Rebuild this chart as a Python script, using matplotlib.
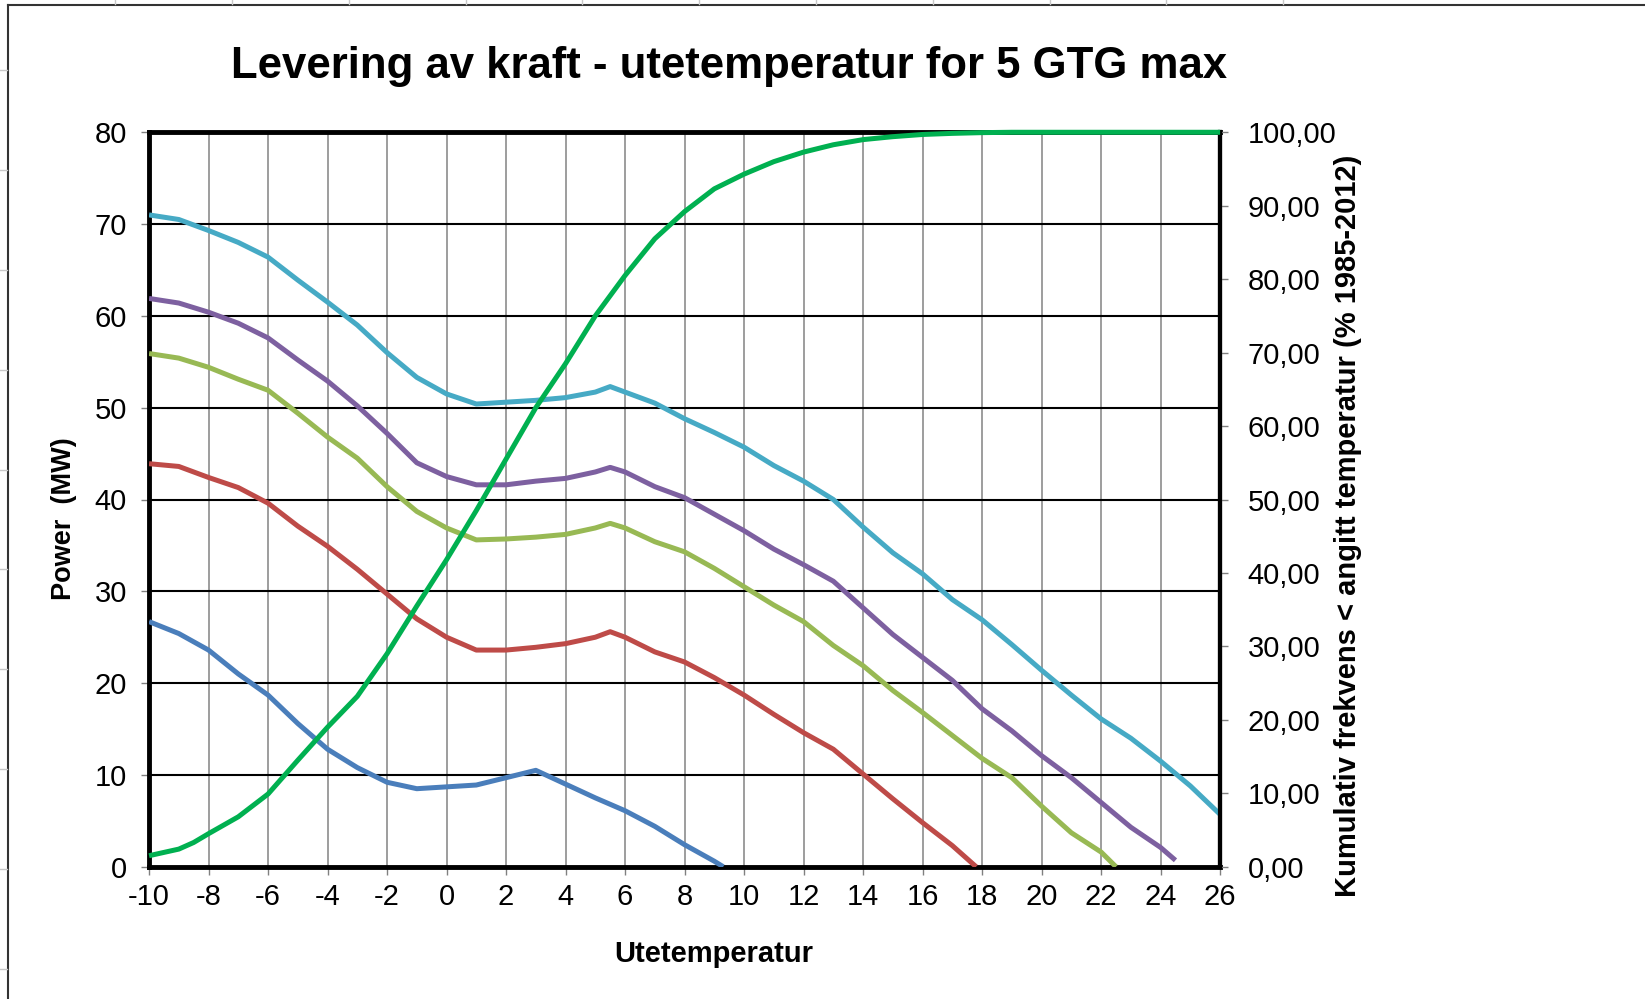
import matplotlib
matplotlib.use("Agg")
import matplotlib.pyplot as plt
from matplotlib.ticker import FuncFormatter, MultipleLocator
from matplotlib.lines import Line2D

plt.rcParams['font.family'] = ['Liberation Sans', 'DejaVu Sans']
plt.rcParams['axes.unicode_minus'] = False

# temperatur (x) og effekt (MW) per kurve
temp_blue = [-10, -9, -8, -7, -6, -5, -4, -3, -2, -1, 0, 1, 2, 3, 4, 5, 6, 7, 8, 9, 9.3]
blue = [26.7, 25.4, 23.6, 21.0, 18.7, 15.6, 12.8, 10.8, 9.2, 8.5, 8.7, 8.9, 9.7, 10.5,
        9.0, 7.5, 6.1, 4.4, 2.4, 0.6, 0.0]

temp_red = [-10, -9, -8, -7, -6, -5, -4, -3, -2, -1, 0, 1, 2, 3, 4, 5, 5.5, 6, 7, 8, 9,
            10, 11, 12, 13, 14, 15, 16, 17, 17.8]
red = [43.9, 43.6, 42.4, 41.3, 39.6, 37.1, 34.9, 32.4, 29.7, 27.0, 25.0, 23.6, 23.6, 23.9,
       24.3, 25.0, 25.6, 25.0, 23.4, 22.3, 20.6, 18.7, 16.6, 14.6, 12.8, 10.1, 7.4, 4.8,
       2.3, 0.0]

temp_olive = [-10, -9, -8, -7, -6, -5, -4, -3, -2, -1, 0, 1, 2, 3, 4, 5, 5.5, 6, 7, 8, 9,
              10, 11, 12, 13, 14, 15, 16, 17, 18, 19, 20, 21, 22, 22.5]
olive = [55.9, 55.4, 54.4, 53.1, 51.9, 49.4, 46.8, 44.5, 41.4, 38.7, 36.9, 35.6, 35.7, 35.9,
         36.2, 36.9, 37.4, 36.9, 35.4, 34.3, 32.5, 30.5, 28.5, 26.7, 24.1, 21.9, 19.2, 16.8,
         14.3, 11.8, 9.7, 6.6, 3.7, 1.6, 0.0]

temp_purple = [-10, -9, -8, -7, -6, -5, -4, -3, -2, -1, 0, 1, 2, 3, 4, 5, 5.5, 6, 7, 8, 9,
               10, 11, 12, 13, 14, 15, 16, 17, 18, 19, 20, 21, 22, 23, 24, 24.5]
purple = [61.9, 61.4, 60.4, 59.2, 57.6, 55.2, 52.9, 50.2, 47.2, 44.0, 42.5, 41.6, 41.6, 42.0,
          42.3, 43.0, 43.5, 43.0, 41.4, 40.2, 38.4, 36.6, 34.6, 32.9, 31.1, 28.2, 25.3, 22.8,
          20.3, 17.2, 14.8, 12.1, 9.7, 7.0, 4.3, 2.1, 0.7]

temp_teal = [-10, -9, -8, -7, -6, -5, -4, -3, -2, -1, 0, 1, 2, 3, 4, 5, 5.5, 6, 7, 8, 9,
             10, 11, 12, 13, 14, 15, 16, 17, 18, 19, 20, 21, 22, 23, 24, 25, 26]
teal = [71.0, 70.5, 69.3, 68.0, 66.4, 63.9, 61.5, 59.0, 56.0, 53.3, 51.5, 50.4, 50.6, 50.8,
        51.1, 51.7, 52.3, 51.7, 50.5, 48.8, 47.3, 45.7, 43.7, 42.0, 40.0, 37.0, 34.2, 31.9,
        29.1, 26.9, 24.2, 21.4, 18.7, 16.1, 14.0, 11.5, 8.8, 5.7]

# kumulativ frekvens (%) - hoyre akse
temp_cum = [-10, -9, -8.5, -8, -7, -6, -5, -4, -3, -2, -1, 0, 1, 2, 3, 4, 5, 6, 7, 8, 9,
            10, 11, 12, 13, 14, 15, 16, 17, 18, 19, 20, 21, 22, 23, 24, 25, 26]
cum = [1.5, 2.4, 3.3, 4.5, 6.8, 9.9, 14.5, 19.0, 23.2, 29.0, 35.5, 41.8, 48.5, 55.5, 62.5,
       68.5, 75.0, 80.5, 85.5, 89.2, 92.3, 94.3, 96.0, 97.3, 98.3, 99.0, 99.4, 99.7, 99.85,
       99.95, 100, 100, 100, 100, 100, 100, 100, 100]

fig = plt.figure(figsize=(16.45, 9.99), dpi=100)
ax = fig.add_axes([0.0906, 0.1324, 0.6511, 0.7352])
ax2 = ax.twinx()

lw = 3.6
kw = dict(lw=lw, zorder=3, solid_joinstyle='round', solid_capstyle='butt')
ax.plot(temp_blue, blue, color='#4A7EBB', **kw)
ax.plot(temp_red, red, color='#BE4B48', **kw)
ax.plot(temp_olive, olive, color='#98B954', **kw)
ax.plot(temp_purple, purple, color='#7D60A0', **kw)
ax.plot(temp_teal, teal, color='#46AAC5', **kw)
ax2.plot(temp_cum, cum, color='#00B050', clip_on=False, **kw)

ax.set_xlim(-10, 26)
ax.set_ylim(0, 80)
ax2.set_ylim(0, 100)
ax.xaxis.set_major_locator(MultipleLocator(2))
ax.yaxis.set_major_locator(MultipleLocator(10))
ax2.yaxis.set_major_locator(MultipleLocator(10))
ax2.yaxis.set_major_formatter(FuncFormatter(lambda v, p: f"{v:.2f}".replace('.', ',')))

# rutenett
ax.grid(axis='x', color='#8C8C8C', lw=1.2)
ax.grid(axis='y', color='black', lw=1.5)
ax.set_axisbelow(True)

for s in ['left', 'bottom', 'top']:
    ax.spines[s].set_linewidth(3.5)
ax.spines['right'].set_linewidth(3)
ax2.spines['right'].set_linewidth(3)
for s in ['left', 'bottom', 'top']:
    ax2.spines[s].set_visible(False)

ax.tick_params(axis='both', labelsize=21, length=6, width=1, color='#808080', pad=6)
ax2.tick_params(axis='y', labelsize=21, length=6, width=1, color='#808080', pad=14)
ax.tick_params(axis='y', pad=10)

fig.text(0.443, 0.933, "Levering av kraft - utetemperatur for 5 GTG max",
         fontsize=31.5, fontweight='bold', ha='center', va='center')
fig.text(0.039, 0.481, "Power  (MW)", fontsize=19.5, fontweight='bold',
         rotation=90, ha='center', va='center')
fig.text(0.434, 0.045, "Utetemperatur", fontsize=21, fontweight='bold',
         ha='center', va='center')
fig.text(0.8195, 0.474, "Kumulativ frekvens < angitt temperatur (% 1985-2012)",
         fontsize=21, fontweight='bold', rotation=90, ha='center', va='center')

# ramme rundt diagrammet + regnearkets rutenett
fig.add_artist(Line2D([0.005, 0.005], [0.0, 0.995], color='#333333', lw=1.5,
                      transform=fig.transFigure))
fig.add_artist(Line2D([0.005, 1.0], [0.995, 0.995], color='#333333', lw=1.5,
                      transform=fig.transFigure))
for yy in [0.93, 0.83, 0.73, 0.63, 0.53, 0.43, 0.33, 0.23, 0.13, 0.03]:
    fig.add_artist(Line2D([0.0, 0.004], [yy, yy], color='#C8C8C8', lw=1,
                          transform=fig.transFigure))
for xx in [0.07, 0.141, 0.212, 0.283, 0.354, 0.425, 0.496, 0.567, 0.638, 0.709, 0.78]:
    fig.add_artist(Line2D([xx, xx], [0.996, 1.0], color='#C8C8C8', lw=1,
                          transform=fig.transFigure))

fig.savefig("out.png", dpi=100)
